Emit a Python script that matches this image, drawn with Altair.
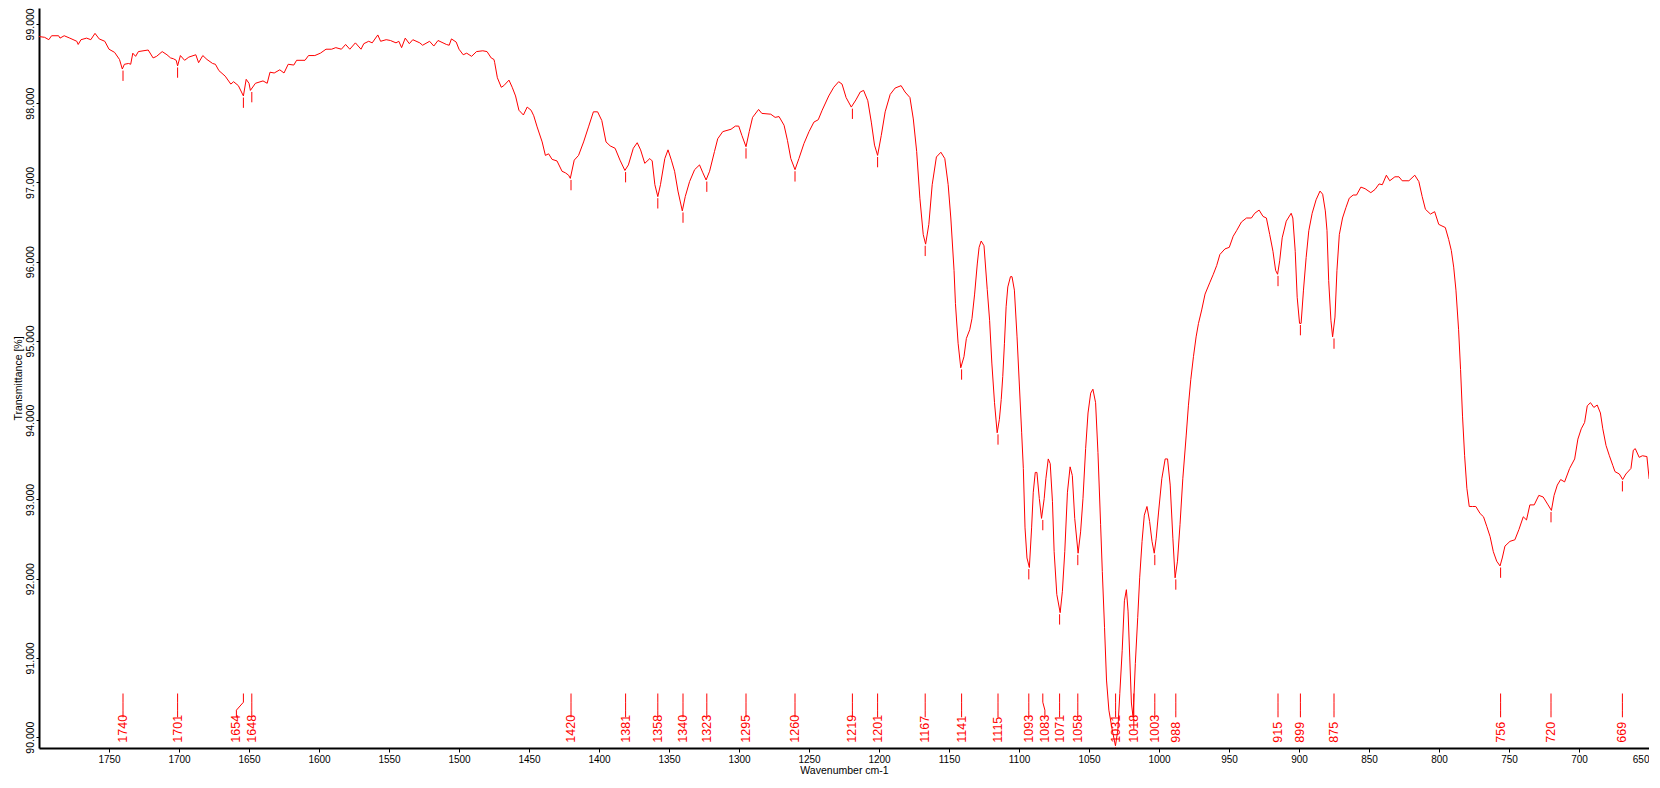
import altair as alt
import pandas as pd

FONT = "Liberation Sans"
RED = "#ff0000"

# spectrum, high wavenumber first
wavenumber = [
    1800, 1796, 1793, 1791, 1786, 1785, 1782, 1778, 1773, 1772, 1770, 1766, 1763, 1760,
    1757, 1753, 1750, 1746, 1742.5, 1740.5, 1739, 1736, 1734.5, 1733, 1731, 1729, 1722,
    1718.5, 1716, 1712, 1708.6, 1706, 1704, 1702, 1701, 1699, 1696, 1693, 1688, 1686,
    1683, 1680, 1676, 1674, 1671.5, 1667, 1663, 1661, 1657.6, 1654, 1652, 1650, 1649,
    1645.4, 1640, 1637, 1635, 1632, 1628, 1625, 1622, 1618, 1616, 1610, 1607.5, 1603,
    1599, 1595, 1591, 1588, 1584, 1581, 1578, 1574, 1570, 1568, 1564.5, 1562, 1558,
    1556, 1552, 1549, 1545, 1543, 1541, 1538.4, 1535.5, 1533, 1528, 1526, 1521, 1518,
    1515, 1509, 1507, 1505.4, 1502, 1500, 1497, 1494.5, 1491, 1487.5, 1483, 1480, 1477,
    1475, 1474.5, 1472.6, 1469.8, 1468, 1464.3, 1462, 1459.6, 1457.2, 1454, 1451.3,
    1448.5, 1446.6, 1444.2, 1440.6, 1438.3, 1436, 1433.5, 1430, 1426.4, 1424, 1421.7,
    1420.5, 1417.7, 1414.6, 1411, 1407.5, 1404, 1401, 1398, 1395, 1392, 1388.5, 1385,
    1381.5, 1379, 1375.5, 1372.7, 1370.3, 1367.3, 1363.7, 1362, 1360.1, 1358, 1356.1,
    1353, 1350.7, 1348.3, 1346, 1343.6, 1340.5, 1338.4, 1335.3, 1331.7, 1328.2, 1325.8,
    1323.5, 1321, 1317.5, 1315.2, 1311.6, 1305.7, 1302.6, 1300.2, 1297.9, 1295, 1292.7,
    1290.3, 1286, 1283.7, 1277.3, 1274.2, 1271.4, 1267.8, 1265.4, 1263, 1260, 1257.2,
    1253.6, 1250, 1246.5, 1243.4, 1240.6, 1235.9, 1232.3, 1228.8, 1226.4, 1223.5,
    1219.8, 1216.5, 1213.4, 1211, 1208, 1205.5, 1203.2, 1201, 1198.4, 1195.6, 1192,
    1188.5, 1184.2, 1181.4, 1177.9, 1175.5, 1173.1, 1170.8, 1168.4, 1166.7, 1164.4,
    1162, 1159, 1155.8, 1153, 1150.6, 1148.7, 1146.4, 1145.4, 1143.5, 1141.6, 1139.3,
    1137.6, 1135.2, 1133.6, 1131.7, 1129.8, 1128.5, 1127, 1125, 1122.7, 1121, 1119.4,
    1117.5, 1115.6, 1114, 1112.7, 1111.6, 1110.4, 1109.2, 1108, 1106.1, 1105, 1103.3,
    1101.4, 1099.7, 1098.1, 1096.9, 1095.7, 1094.3, 1092.6, 1091, 1089.8, 1088.4,
    1087.2, 1085.5, 1083.9, 1082, 1080.8, 1079.1, 1077.7, 1076.1, 1074.9, 1073, 1070.6,
    1069, 1067.3, 1065.4, 1063.5, 1061.9, 1060.2, 1057.8, 1056, 1054.3, 1052.4, 1050.7,
    1048.8, 1047.2, 1045.3, 1043.6, 1041.7, 1040.5, 1038.9, 1037.5, 1035.8, 1033.4,
    1031.1, 1029.4, 1028, 1026.3, 1024.7, 1023.3, 1022.1, 1020.9, 1019.7, 1018.5,
    1016.9, 1015.2, 1013.8, 1012.1, 1010.5, 1008.6, 1006.7, 1005, 1003.4, 1002, 1000.3,
    998, 995.6, 993.9, 992, 990.1, 988.5, 986.8, 985, 983, 980.6, 979, 977.3, 975.4,
    973.5, 971.8, 969.5, 967.1, 963.6, 961.2, 958.8, 956.5, 952.9, 949.8, 947, 944.6,
    941.1, 937.5, 934, 931.6, 928.5, 925.7, 923.3, 920.9, 918.6, 916.7, 915.3, 913.8,
    912, 909.1, 905.6, 904.4, 902.7, 901.3, 899.6, 898.5, 896.8, 894.9, 893, 890.6,
    887.8, 885, 883.1, 881.2, 880, 878.8, 877.2, 876, 874.3, 872.9, 871.2, 868.9, 866.5,
    864.1, 861.3, 858.9, 855.8, 852.8, 848.7, 845.7, 842.8, 840.5, 837.6, 835.2, 831.5,
    828.6, 826.3, 821.5, 817.3, 814.4, 812, 809.7, 806.1, 803.1, 800.2, 797.9, 795.5,
    793.1, 791.2, 789.5, 787.9, 786, 784.6, 783.2, 781.7, 780.1, 778.4, 776.1, 773.7,
    770.6, 768.2, 765.9, 763.5, 761.2, 758.8, 756.4, 754.8, 752.9, 749.3, 745.8, 742.9,
    739.8, 737.5, 735.1, 732, 728.7, 725.6, 722.1, 719.7, 717.8, 715.5, 713.1, 710.3,
    706.7, 703.1, 700.8, 698.4, 696, 694.1, 691.8, 689.4, 687, 684.7, 683, 680.7, 678.3,
    675.9, 674.3, 671.2, 668.8, 666.5, 662.9, 661.2, 659.8, 657, 654.7, 651.5, 649.9,
    648.7,
]
transmittance = [
    98.84, 98.83, 98.80, 98.85, 98.85, 98.82, 98.85, 98.82, 98.78, 98.74, 98.80, 98.82,
    98.80, 98.88, 98.81, 98.78, 98.68, 98.64, 98.55, 98.43, 98.49, 98.50, 98.49, 98.63,
    98.59, 98.65, 98.67, 98.57, 98.59, 98.65, 98.61, 98.57, 98.56, 98.54, 98.47, 98.60,
    98.54, 98.58, 98.61, 98.51, 98.60, 98.55, 98.50, 98.49, 98.41, 98.34, 98.24, 98.27,
    98.22, 98.09, 98.30, 98.25, 98.16, 98.25, 98.28, 98.25, 98.39, 98.38, 98.42, 98.38,
    98.49, 98.48, 98.54, 98.54, 98.60, 98.60, 98.63, 98.68, 98.68, 98.70, 98.68, 98.74,
    98.68, 98.76, 98.68, 98.75, 98.78, 98.76, 98.86, 98.78, 98.80, 98.79, 98.76, 98.78,
    98.70, 98.82, 98.75, 98.80, 98.76, 98.73, 98.78, 98.72, 98.79, 98.74, 98.73, 98.81,
    98.77, 98.68, 98.61, 98.63, 98.59, 98.65, 98.66, 98.65, 98.57, 98.55, 98.51, 98.32,
    98.20, 98.22, 98.29, 98.20, 98.09, 97.91, 97.85, 97.95, 97.91, 97.84, 97.70, 97.51,
    97.34, 97.36, 97.29, 97.27, 97.14, 97.12, 97.09, 97.05, 97.28, 97.34, 97.51, 97.70,
    97.89, 97.89, 97.78, 97.51, 97.46, 97.43, 97.28, 97.15, 97.22, 97.43, 97.50, 97.41,
    97.24, 97.30, 97.27, 96.97, 96.82, 96.97, 97.30, 97.41, 97.28, 97.14, 96.89, 96.64,
    96.82, 97.01, 97.16, 97.22, 97.12, 97.03, 97.14, 97.39, 97.55, 97.64, 97.67, 97.71,
    97.71, 97.59, 97.45, 97.64, 97.82, 97.92, 97.87, 97.86, 97.82, 97.83, 97.72, 97.53,
    97.30, 97.16, 97.30, 97.49, 97.64, 97.76, 97.79, 97.91, 98.09, 98.20, 98.27, 98.24,
    98.07, 97.95, 98.04, 98.14, 98.16, 98.03, 97.76, 97.47, 97.34, 97.59, 97.89, 98.11,
    98.19, 98.22, 98.14, 98.07, 97.80, 97.39, 96.80, 96.34, 96.22, 96.47, 96.97, 97.32,
    97.38, 97.30, 96.97, 96.55, 95.89, 95.47, 94.97, 94.66, 94.80, 95.03, 95.14, 95.28,
    95.59, 95.97, 96.18, 96.26, 96.20, 95.65, 95.26, 94.72, 94.22, 93.84, 94.01, 94.26,
    94.55, 94.97, 95.43, 95.68, 95.81, 95.81, 95.64, 95.05, 94.43, 93.84, 93.39, 92.64,
    92.26, 92.14, 92.64, 93.09, 93.34, 93.34, 93.01, 92.76, 93.01, 93.26, 93.51, 93.45,
    92.97, 92.34, 91.80, 91.57, 91.84, 92.34, 93.09, 93.41, 93.30, 92.76, 92.32, 92.59,
    93.01, 93.64, 94.09, 94.34, 94.39, 94.22, 93.59, 92.68, 92.09, 91.38, 90.72, 90.34,
    90.09, 89.89, 90.09, 90.55, 91.09, 91.72, 91.86, 91.59, 91.01, 90.43, 90.25, 90.93,
    91.51, 92.01, 92.47, 92.80, 92.91, 92.72, 92.47, 92.32, 92.51, 92.84, 93.26, 93.51,
    93.51, 93.18, 92.51, 92.01, 92.22, 92.68, 93.26, 93.80, 94.18, 94.51, 94.80, 95.05,
    95.22, 95.39, 95.59, 95.74, 95.84, 95.95, 96.09, 96.16, 96.18, 96.32, 96.39, 96.50,
    96.55, 96.55, 96.61, 96.65, 96.57, 96.55, 96.34, 96.13, 95.89, 95.84, 96.01, 96.30,
    96.51, 96.61, 96.55, 96.13, 95.55, 95.22, 95.22, 95.64, 96.05, 96.39, 96.61, 96.78,
    96.89, 96.85, 96.64, 96.39, 95.76, 95.26, 95.05, 95.30, 95.89, 96.34, 96.55, 96.68,
    96.80, 96.84, 96.84, 96.94, 96.92, 96.87, 96.91, 96.98, 96.97, 97.09, 97.02, 97.07,
    97.07, 97.02, 97.02, 97.09, 97.01, 96.82, 96.66, 96.60, 96.63, 96.47, 96.45, 96.43,
    96.28, 96.14, 95.93, 95.64, 95.14, 94.64, 94.05, 93.55, 93.14, 92.91, 92.91, 92.91,
    92.82, 92.78, 92.66, 92.53, 92.34, 92.22, 92.16, 92.26, 92.41, 92.47, 92.49, 92.62,
    92.78, 92.74, 92.93, 92.93, 93.05, 93.03, 92.93, 92.86, 93.05, 93.18, 93.25, 93.22,
    93.39, 93.51, 93.76, 93.89, 93.97, 94.18, 94.22, 94.16, 94.19, 94.09, 93.89, 93.68,
    93.55, 93.43, 93.35, 93.32, 93.25, 93.32, 93.39, 93.62, 93.64, 93.53, 93.55, 93.54,
    93.26, 93.22,
]

# picked peaks, the transmittance at each, and where a crowded label is moved to
peaks = [1740, 1701, 1654, 1648, 1420, 1381, 1358, 1340, 1323, 1295, 1260, 1219, 1201,
         1167, 1141, 1115, 1093, 1083, 1071, 1058, 1031, 1018, 1003, 988, 915, 899, 875,
         756, 720, 669]
peak_t = [98.43, 98.47, 98.09, 98.16, 97.05, 97.15, 96.82, 96.64, 97.03, 97.45, 97.16,
          97.95, 97.34, 96.22, 94.66, 93.84, 92.14, 92.76, 91.57, 92.32, 89.89, 90.25,
          92.32, 92.01, 95.84, 95.22, 95.05, 92.16, 92.86, 93.25]
label_moved = {1654: 1659, 1083: 1081.5}

spectrum = pd.DataFrame({"wavenumber": wavenumber, "transmittance": transmittance})

marks = pd.DataFrame({
    "peak": peaks,
    "top": [t - 0.02 for t in peak_t],
    "bottom": [t - 0.15 for t in peak_t],
})

leader_rows = []
for p in peaks:
    lx = label_moved.get(p, p)
    for i, (x, y) in enumerate([(p, 90.55), (p, 90.44), (lx, 90.34), (lx, 90.25)]):
        leader_rows.append({"peak": p, "x": x, "y": y, "order": i})
leaders = pd.DataFrame(leader_rows)

labels = pd.DataFrame({
    "peak": [str(p) for p in peaks],
    "x": [label_moved.get(p, p) for p in peaks],
    "y": [89.93] * len(peaks),
})

x_scale = alt.Scale(domain=[1800, 650], nice=False, zero=False)
y_scale = alt.Scale(domain=[89.8625, 99.2], nice=False, zero=False)

x_enc = alt.X(
    "wavenumber:Q",
    scale=x_scale,
    title="Wavenumber cm-1",
    axis=alt.Axis(values=list(range(1750, 600, -50)), format="d", titlePadding=1),
)
y_enc = alt.Y(
    "transmittance:Q",
    scale=y_scale,
    title="Transmittance [%]",
    axis=alt.Axis(
        values=list(range(90, 100)),
        format=".3f",
        labelAngle=270,
        labelAlign="center",
        labelBaseline="bottom",
        labelFontSize=10.5,
        tickSize=3,
        labelPadding=1,
        titlePadding=2,
    ),
)

line = (
    alt.Chart(spectrum)
    .mark_line(color=RED, strokeWidth=1, clip=True)
    .encode(x=x_enc, y=y_enc)
)

ticks = (
    alt.Chart(marks)
    .mark_rule(color=RED, strokeWidth=1, clip=True)
    .encode(x="peak:Q", y="top:Q", y2="bottom:Q")
)

leader = (
    alt.Chart(leaders)
    .mark_line(color=RED, strokeWidth=1)
    .encode(x="x:Q", y="y:Q", detail="peak:N", order="order:O")
)

text = (
    alt.Chart(labels)
    .mark_text(color=RED, angle=270, align="left", baseline="middle", fontSize=12.5, font=FONT)
    .encode(x="x:Q", y="y:Q", text="peak:N")
)

chart = (
    alt.layer(line, ticks, leader, text)
    .properties(
        width=1610,
        height=740,
        autosize="none",
        padding={"left": 31, "top": 0, "right": 0, "bottom": 28},
    )
    .configure_view(stroke=None)
    .configure_axis(
        grid=False,
        domainColor="black",
        domainWidth=2,
        tickColor="black",
        tickWidth=1,
        tickSize=4,
        labelFont=FONT,
        labelFontSize=10,
        labelColor="black",
        titleFont=FONT,
        titleFontSize=10.5,
        titleFontWeight="normal",
        titleColor="black",
        labelPadding=2,
        titlePadding=3,
    )
)

chart.save("out.html", embed_options={"renderer": "svg", "actions": False})
